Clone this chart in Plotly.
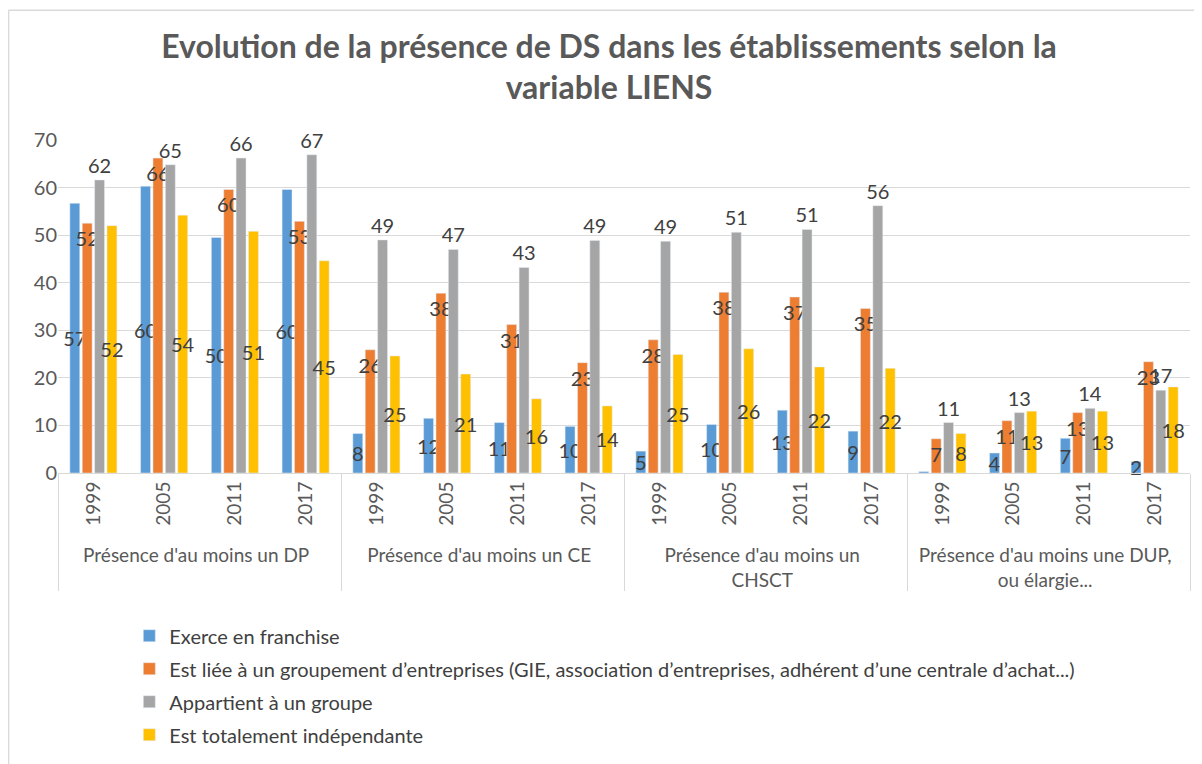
import plotly.graph_objects as go

# categories
groups = ["Présence d'au moins un DP", "Présence d'au moins un CE",
          "Présence d'au moins un<br>CHSCT", "Présence d'au moins une DUP,<br>ou élargie..."]
years = ["1999", "2005", "2011", "2017"]

# series values
franchise = [56.7, 60.3, 49.5, 59.6, 8.3, 11.5, 10.6, 9.8, 4.6, 10.2, 13.2, 8.8, 0.3, 4.2, 7.3, 2.4]
groupement = [52.5, 66.2, 59.6, 52.9, 25.9, 37.8, 31.2, 23.2, 28.0, 38.0, 37.0, 34.6, 7.2, 11.0, 12.7, 23.4]
groupe = [61.6, 64.8, 66.2, 66.9, 49.0, 47.0, 43.2, 48.9, 48.7, 50.6, 51.2, 56.2, 10.6, 12.7, 13.6, 17.4]
independante = [52.0, 54.2, 50.8, 44.6, 24.6, 20.8, 15.6, 14.1, 24.9, 26.1, 22.3, 22.0, 8.3, 13.0, 13.0, 18.1]

series_names = [
    "Exerce en franchise",
    "Est liée à un groupement d’entreprises (GIE, association d’entreprises, adhérent d’une centrale d’achat...)",
    "Appartient à un groupe",
    "Est totalement indépendante",
]
colors = ["#5B9BD5", "#ED7D31", "#A5A5A5", "#FFC000"]
label_pos = ["inside", "inside", "outside", "inside"]
label_anchor = ["middle", "end", "middle", "middle"]

x = [[g for g in groups for _ in years], [y for _ in groups for y in years]]

font_family = "Lato, 'Open Sans', sans-serif"
fig = go.Figure()
for name, vals, col, pos, anchor in zip(series_names, [franchise, groupement, groupe, independante],
                                        colors, label_pos, label_anchor):
    fig.add_trace(go.Bar(
        x=x, y=vals, name=name, marker_color=col, legendgroup=name,
        text=[f"{v:.0f}" if v >= 1 else "" for v in vals],
        textposition=pos,
        insidetextanchor=anchor,
        constraintext="none",
        cliponaxis=False,
        textfont=dict(size=20, color="#404040", family=font_family),
        hovertemplate="%{y}<extra></extra>",
    ))

fig.update_layout(
    width=1202, height=764,
    title=dict(text="Evolution de la présence de DS dans les établissements selon la<br>variable LIENS",
               x=0.5, xanchor="center", y=0.935, yanchor="top",
               font=dict(size=32, color="#595959", family=font_family, weight="bold")),
    font=dict(family=font_family, color="#595959", size=18),
    plot_bgcolor="white", paper_bgcolor="white",
    barmode="group", bargap=0.3, bargroupgap=0.2,
    margin=dict(l=50, r=20, t=132, b=299),
    legend=dict(x=0.063, xanchor="left", y=-0.43, yanchor="top",
                font=dict(size=20, color="#404040"), tracegroupgap=4,
                itemwidth=30, traceorder="grouped"),
    showlegend=True,
)
fig.update_yaxes(range=[0, 70], dtick=10, showgrid=True, gridcolor="#D9D9D9", gridwidth=1,
                 zeroline=False, showline=False, ticks="", tickfont=dict(size=20, color="#595959"))
fig.update_xaxes(type="multicategory", showline=True, linecolor="#D9D9D9", linewidth=1,
                 showdividers=True, dividercolor="#D9D9D9", dividerwidth=1,
                 tickangle=-90, tickfont=dict(size=19, color="#595959"))

# chart frame (only the top and left edges are visible in the reference)
fig.add_shape(type="line", xref="paper", yref="paper", x0=-0.0437, x1=-0.0437, y0=-0.9, y1=1.39,
              line=dict(color="#D9D9D9", width=1.5))
fig.add_shape(type="line", xref="paper", yref="paper", x0=-0.0437, x1=1.03, y0=1.39, y1=1.39,
              line=dict(color="#D9D9D9", width=1.5))

fig.write_html("out.html")
